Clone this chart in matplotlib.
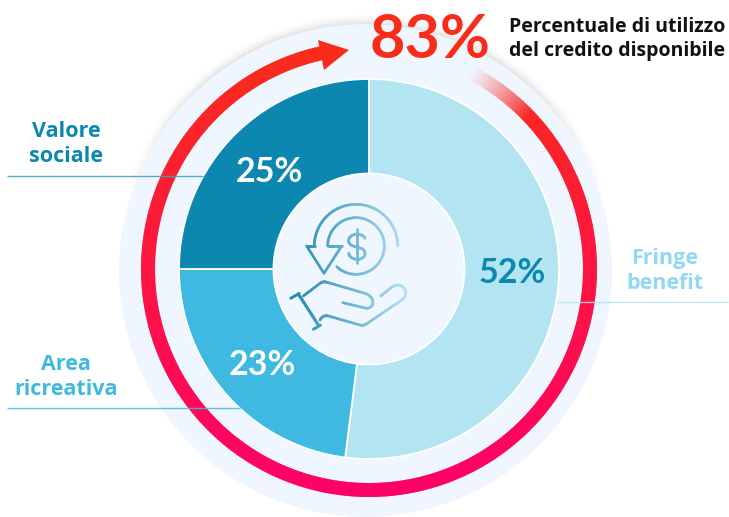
import numpy as np
import matplotlib
matplotlib.use("Agg")
import matplotlib.pyplot as plt
from matplotlib.patches import Circle, Wedge, Polygon
from matplotlib.collections import LineCollection
from matplotlib.colors import to_rgb

# ---- data ----
categories = ["Fringe\nbenefit", "Area\nricreativa", "Valore\nsociale"]
shares = [52, 23, 25]
slice_colors = ["#b3e4f2", "#3fb9e1", "#0c87b0"]
value_colors = ["#0c87b0", "#ffffff", "#ffffff"]
utilization = 83
caption = "Percentuale di utilizzo\ndel credito disponibile"

W, H = 729, 517
PALE = "#eff6fe"
plt.rcParams["font.family"] = ["Lato", "DejaVu Sans"]

fig = plt.figure(figsize=(W / 100, H / 100), dpi=100)
ax = fig.add_axes([0, 0, 1, 1])


def Y(py):
    return H - py


# soft shadow above the pale disc
cx0, cy0, r0 = 365.5, 270.5, 246.5
xx, yy = np.meshgrid(np.arange(W) + .5, np.arange(H) + .5)
dist = np.hypot(xx - cx0, yy - cy0)
alpha = np.clip(1 - (dist - r0) / 12, 0, 1) ** 2 * 0.12 * np.clip((200 - yy) / 120, 0, 1)
shadow = np.zeros((H, W, 4))
shadow[..., 3] = alpha
ax.imshow(shadow, extent=(0, W, 0, H), origin="upper", zorder=0, aspect="auto")

ax.add_patch(Circle((cx0, Y(cy0)), r0, fc=PALE, ec="none", zorder=1))

# donut
cx, cy = 369, 269
wedges, _ = ax.pie(shares, colors=slice_colors, startangle=90, counterclock=False,
                   center=(cx, Y(cy)), radius=190, frame=True,
                   wedgeprops=dict(width=95, edgecolor="white", linewidth=1.3))
for w in wedges:
    w.set_zorder(2)
ax.add_patch(Circle((cx, Y(cy)), 95.5, fc=PALE, ec="white", lw=1.3, zorder=3))

# usage ring with vertical gradient, fading in at its start
top_col, bot_col = np.array(to_rgb("#f92c1a")), np.array(to_rgb("#ff0068"))
pale = np.array(to_rgb(PALE))
ring_r, ring_w = 228, 14
fade_a, fade_b = 27.0, 46.0
end_a = 347.6
for a in np.arange(fade_a, end_a, 0.5):
    rad = np.radians(a + .25)
    py = cy - (ring_r - ring_w / 2) * np.cos(rad)
    t = np.clip((py - 50) / 440, 0, 1)
    c = top_col + (bot_col - top_col) * t
    f = np.clip((a - fade_a) / (fade_b - fade_a), 0, 1)
    c = pale + (c - pale) * f ** 1.2
    ax.add_patch(Wedge((cx, Y(cy)), ring_r, 90 - a - 0.75, 90 - a, width=ring_w,
                       fc=tuple(c), ec="none", zorder=4))
ax.add_patch(Polygon([(349, Y(50)), (318, Y(40)), (324, Y(70))], fc="#f92c1a", ec="none", zorder=4))

# leader lines
lines = [((7, 205), 176, "#3f9fbf"), ((7, 240), 408, "#3fb9e1"), ((557, 728), 302, "#b3e4f2")]
for xs, py, col in lines:
    ax.plot(xs, [Y(py), Y(py)], color=col, lw=1, alpha=.85, zorder=5, solid_capstyle="butt")

# ---- centre icon (zoom coordinates -> picture) ----
ICON_L, ICON_R = np.array(to_rgb("#2186ab")), np.array(to_rgb("#b5e2f3"))


def stroke(x, y, lw=1.9):
    px, py = 270 + np.asarray(x) / 3, 170 + np.asarray(y) / 3
    pts = np.column_stack([px, Y(py)])
    segs = np.stack([pts[:-1], pts[1:]], axis=1)
    tt = np.clip((segs[:, 0, 0] - 290) / 118, 0, 1)[:, None]
    cols = ICON_L + (ICON_R - ICON_L) * tt
    ax.add_collection(LineCollection(segs, colors=cols, linewidths=lw, capstyle="round", zorder=6))


def arc(c, r, a0, a1, n=80):
    t = np.radians(np.linspace(a0, a1, n))
    return c[0] + r * np.cos(t), c[1] - r * np.sin(t)


def curve(*cmds):
    cur = np.array(cmds[0], float)
    res = []
    for cmd in cmds[1:]:
        if len(cmd) == 2:
            end = np.array(cmd, float)
            res.append(np.linspace(cur, end, 12))
        else:
            p1, p2, end = np.array(cmd[:2]), np.array(cmd[2:4]), np.array(cmd[4:6])
            s = np.linspace(0, 1, 24)[:, None]
            res.append((1 - s) ** 3 * cur + 3 * (1 - s) ** 2 * s * p1 + 3 * (1 - s) * s ** 2 * p2 + s ** 3 * end)
        cur = end
    a = np.vstack(res)
    return a[:, 0], a[:, 1]


c = (258, 228)
stroke(*arc(c, 125, 0, 180))
stroke(*arc(c, 85, 180, -133))
stroke(*curve((135, 228), (110, 228), (162, 310), (215, 228), (175, 228)))
stroke(*curve((285, 205), (280, 188, 236, 188, 236, 212), (236, 238, 285, 225, 285, 250), (285, 274, 240, 274, 236, 250)))
stroke(*curve((260, 178), (260, 280)))
stroke(*curve((85, 372), (145, 465)), lw=2.2)
stroke(*curve((62, 385), (88, 370)))
stroke(*curve((130, 478), (152, 465)))
stroke(*curve((100, 378), (150, 340), (158, 334, 165, 335, 175, 338), (285, 370),
              (318, 380, 315, 420, 285, 414), (218, 398)))
stroke(*curve((150, 450), (156, 438, 165, 436, 175, 438), (270, 465), (280, 467, 285, 465, 292, 460),
              (398, 388), (422, 368, 395, 330, 365, 352), (332, 378)))

# ---- text ----
label_pos = [(665, 271), (66, 377), (66, 144)]
value_pos = [(512, 273), (262, 365), (269, 172)]
label_colors = ["#93d8ef", "#3fb9e1", "#0c87b0"]
for cat, v, lp, vp, lc, vc in zip(categories, shares, label_pos, value_pos, label_colors, value_colors):
    ax.text(lp[0], Y(lp[1]), cat, ha="center", va="center", fontsize=15.5, fontweight="bold",
            family=["Open Sans", "DejaVu Sans"], color=lc, linespacing=1.25, zorder=7)
    ax.text(vp[0], Y(vp[1]), f"{v}%", ha="center", va="center", fontsize=24.5, fontweight="bold",
            color=vc, zorder=7)

ax.text(370, Y(58), f"{utilization}%", ha="left", va="baseline", fontsize=44, fontweight="bold",
        color="#f92c1a", zorder=7)
ax.text(509, Y(39), caption, ha="left", va="center", fontsize=14, fontweight="bold",
        family=["Open Sans", "DejaVu Sans"], color="#111111", linespacing=1.22, zorder=7)

ax.set_xlim(0, W)
ax.set_ylim(0, H)
ax.set_aspect("auto")
ax.axis("off")
fig.savefig("out.png", dpi=100)
